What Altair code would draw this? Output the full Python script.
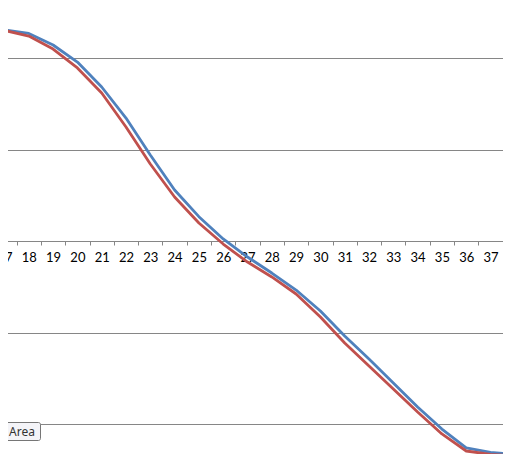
import altair as alt
import pandas as pd

# categories (x axis) -- the chart is a crop, 16 lies just left of the view
categories = list(range(16, 39))
# first series (blue)
series_blue = [2.361, 2.306, 2.268, 2.142, 1.956, 1.683, 1.344, 0.940, 0.557, 0.266,
               0.022, -0.175, -0.350, -0.536, -0.765, -1.038, -1.290, -1.552, -1.814,
               -2.055, -2.262, -2.311, -2.333]
# second series (red)
series_red = [2.361, 2.301, 2.240, 2.098, 1.891, 1.617, 1.246, 0.842, 0.481, 0.197,
              -0.033, -0.230, -0.393, -0.579, -0.831, -1.115, -1.366, -1.617, -1.869,
              -2.109, -2.295, -2.333, -2.350]
series_names = ["Series1", "Series2"]
series_colors = ["#4F81BD", "#C0504D"]
tick_labels = list(range(17, 39))
grid_values = [-2, -1, 1, 2]

df = pd.DataFrame({
    "cat": categories * 2,
    "value": series_blue + series_red,
    "series": [series_names[0]] * len(categories) + [series_names[1]] * len(categories),
})

W, H = 511, 462
x_scale = alt.Scale(domain=[16.8148, 37.843], nice=False, zero=False)
y_scale = alt.Scale(domain=[-2.4153, 2.6339], nice=False, zero=False)

lines = alt.Chart(df).mark_line(
    strokeWidth=2.8, clip=True, strokeJoin="round", strokeCap="round"
).encode(
    x=alt.X("cat:Q", scale=x_scale,
            axis=alt.Axis(values=tick_labels, offset=-221, orient="bottom",
                          tickOffset=12.15, labelOffset=-12.15, tickSize=4,
                          tickColor="#868686", domainColor="#868686",
                          domainWidth=1, tickWidth=1, grid=False,
                          labelFont="Lato", labelFontSize=13, labelColor="#000000",
                          labelPadding=6, labelFlush=False, labelOverlap=False,
                          title=None)),
    y=alt.Y("value:Q", scale=y_scale,
            axis=alt.Axis(values=grid_values, grid=True, gridColor="#868686",
                          gridWidth=1, labels=False, ticks=False, domain=False,
                          title=None)),
    color=alt.Color("series:N", scale=alt.Scale(domain=series_names, range=series_colors),
                    legend=None),
    detail="series:N",
)

tip_box = alt.Chart(pd.DataFrame({"t": ["Plot Area"]})).mark_rect(
    fill="#f4f4f8", stroke="#767676", strokeWidth=1, cornerRadius=2
).encode(x=alt.value(-40), x2=alt.value(40.5), y=alt.value(422.5), y2=alt.value(440.5))

tip_text = alt.Chart(pd.DataFrame({"t": ["Plot Area"]})).mark_text(
    align="right", baseline="alphabetic", font="Noto Sans", fontSize=12, color="#333333"
).encode(x=alt.value(35), y=alt.value(436), text="t:N")

chart = alt.layer(lines, tip_box, tip_text).properties(
    width=W, height=H,
    autosize=alt.AutoSizeParams(type="none"),
    padding={"left": -8, "top": -8, "right": -8, "bottom": -8},
    background="white",
).configure_view(stroke=None)

chart.save("out.html", embed_options={"renderer": "svg", "actions": False})
